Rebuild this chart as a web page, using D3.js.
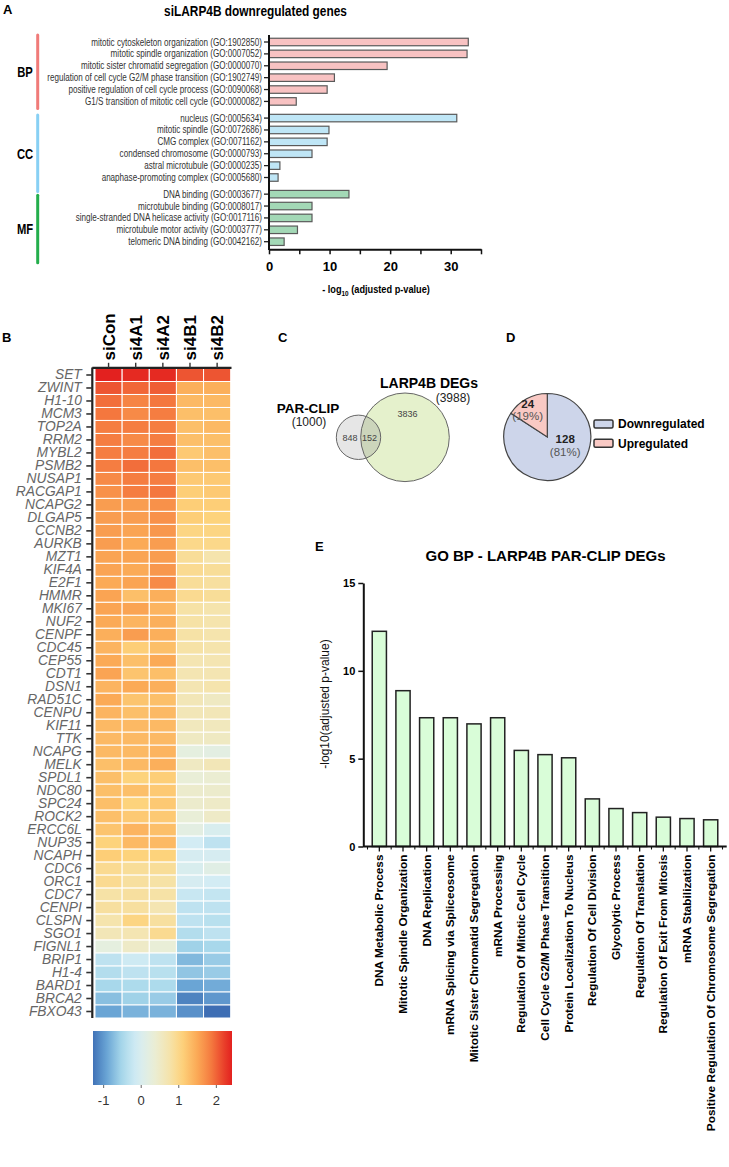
<!DOCTYPE html>
<html>
<head>
<meta charset="utf-8">
<script src="https://cdn.jsdelivr.net/npm/d3@7/dist/d3.min.js"></script>
<style>
html,body{margin:0;padding:0;background:#fff;}
svg{display:block;}
</style>
</head>
<body>
<script>
// ================= DATA =================
// Panel A
const bpTerms = [
  "mitotic cytoskeleton organization (GO:1902850)",
  "mitotic spindle organization (GO:0007052)",
  "mitotic sister chromatid segregation (GO:0000070)",
  "regulation of cell cycle G2/M phase transition (GO:1902749)",
  "positive regulation of cell cycle process (GO:0090068)",
  "G1/S transition of mitotic cell cycle (GO:0000082)"
];
const bpValues = [32.9, 32.7, 19.5, 10.8, 9.6, 4.5];
const ccTerms = [
  "nucleus (GO:0005634)",
  "mitotic spindle (GO:0072686)",
  "CMG complex (GO:0071162)",
  "condensed chromosome (GO:0000793)",
  "astral microtubule (GO:0000235)",
  "anaphase-promoting complex (GO:0005680)"
];
const ccValues = [31.0, 9.9, 9.6, 7.1, 1.8, 1.5];
const mfTerms = [
  "DNA binding (GO:0003677)",
  "microtubule binding (GO:0008017)",
  "single-stranded DNA helicase activity (GO:0017116)",
  "microtubule motor activity (GO:0003777)",
  "telomeric DNA binding (GO:0042162)"
];
const mfValues = [13.2, 7.1, 7.1, 4.7, 2.5];
const groupNamesA = ["BP", "CC", "MF"];
const tickLabelsA = [0, 10, 20, 30];

// Panel B
const samples = ["siCon", "si4A1", "si4A2", "si4B1", "si4B2"];
const genes = ["SET","ZWINT","H1-10","MCM3","TOP2A","RRM2","MYBL2","PSMB2","NUSAP1","RACGAP1",
  "NCAPG2","DLGAP5","CCNB2","AURKB","MZT1","KIF4A","E2F1","HMMR","MKI67","NUF2",
  "CENPF","CDC45","CEP55","CDT1","DSN1","RAD51C","CENPU","KIF11","TTK","NCAPG",
  "MELK","SPDL1","NDC80","SPC24","ROCK2","ERCC6L","NUP35","NCAPH","CDC6","ORC1",
  "CDC7","CENPI","CLSPN","SGO1","FIGNL1","BRIP1","H1-4","BARD1","BRCA2","FBXO43"];
const expression = [
  [2.4, 2.35, 2.35, 2.1, 2.1],
  [2.1, 2.0, 2.05, 1.45, 1.45],
  [1.95, 1.8, 1.9, 1.35, 1.35],
  [1.9, 1.75, 1.85, 1.3, 1.3],
  [1.85, 1.85, 1.85, 1.3, 1.35],
  [1.85, 1.75, 1.85, 1.3, 1.3],
  [1.85, 1.85, 1.95, 1.2, 1.3],
  [1.85, 1.95, 1.9, 1.3, 1.3],
  [1.75, 1.85, 1.85, 1.2, 1.2],
  [1.7, 1.85, 1.9, 1.15, 1.2],
  [1.6, 1.6, 1.7, 1.15, 1.15],
  [1.6, 1.6, 1.7, 1.15, 1.1],
  [1.6, 1.55, 1.65, 1.05, 1.05],
  [1.6, 1.5, 1.6, 1.0, 1.0],
  [1.55, 1.55, 1.6, 0.9, 0.75],
  [1.55, 1.5, 1.65, 0.95, 0.9],
  [1.5, 1.55, 1.75, 0.9, 0.85],
  [1.55, 1.3, 1.45, 0.95, 0.9],
  [1.55, 1.55, 1.4, 0.8, 0.75],
  [1.5, 1.4, 1.45, 0.8, 0.75],
  [1.45, 1.6, 1.45, 0.8, 0.75],
  [1.4, 1.15, 1.3, 0.8, 0.75],
  [1.5, 1.3, 1.5, 0.7, 0.7],
  [1.55, 1.25, 1.3, 0.7, 0.7],
  [1.4, 1.5, 1.45, 0.7, 0.75],
  [1.5, 1.25, 1.3, 0.65, 0.55],
  [1.4, 1.3, 1.35, 0.65, 0.65],
  [1.35, 1.35, 1.35, 0.6, 0.6],
  [1.35, 1.35, 1.35, 0.55, 0.55],
  [1.35, 1.35, 1.4, 0.25, 0.2],
  [1.3, 1.35, 1.45, 0.55, 0.65],
  [1.3, 1.1, 1.15, 0.35, 0.4],
  [1.3, 1.3, 1.2, 0.45, 0.45],
  [1.3, 1.1, 1.2, 0.45, 0.5],
  [1.3, 1.2, 1.2, 0.35, 0.5],
  [1.25, 1.4, 1.3, 0.2, 0.0],
  [1.1, 1.35, 1.35, -0.1, -0.3],
  [1.15, 1.1, 1.1, -0.05, -0.05],
  [0.95, 0.9, 0.9, 0.0, 0.15],
  [0.95, 0.85, 0.8, -0.05, -0.1],
  [0.8, 0.85, 0.8, -0.2, -0.25],
  [0.85, 0.85, 0.7, -0.3, -0.3],
  [0.75, 1.05, 0.85, -0.3, -0.35],
  [0.65, 0.7, 0.95, -0.4, -0.3],
  [0.25, 0.5, 0.35, -0.55, -0.5],
  [-0.3, -0.15, -0.3, -0.75, -0.6],
  [-0.4, -0.3, -0.35, -0.65, -0.6],
  [-0.5, -0.45, -0.45, -0.9, -0.85],
  [-0.7, -0.55, -0.6, -1.15, -1.0],
  [-0.9, -0.8, -0.8, -1.05, -1.3]
];
const colorbarTicks = [-1, 0, 1, 2];
const colorStops = [-1.35, -0.9, -0.5, -0.1, 0.3, 0.75, 1.1, 1.5, 1.9, 2.4];

// Panel C
const vennNames = ["PAR-CLIP", "LARP4B DEGs"];
const vennTotals = [1000, 3988];
const vennCounts = [848, 152, 3836];

// Panel D
const pieNames = ["Downregulated", "Upregulated"];
const pieValues = [128, 24];
const piePercents = [81, 19];

// Panel E
const eTerms = ["DNA Metabolic Process","Mitotic Spindle Organization","DNA Replication",
  "mRNA Splicing via Spliceosome","Mitotic Sister Chromatid Segregation","mRNA Processing",
  "Regulation Of Mitotic Cell Cycle","Cell Cycle G2/M Phase Transition","Protein Localization To Nucleus",
  "Regulation Of Cell Division","Glycolytic Process","Regulation Of Translation",
  "Regulation Of Exit From Mitosis","mRNA Stabilization","Positive Regulation Of Chromosome Segregation"];
const eValues = [12.25, 8.87, 7.33, 7.33, 6.98, 7.33, 5.47, 5.23, 5.05, 2.71, 2.16, 1.93, 1.67, 1.59, 1.52];
const eTicks = [0, 5, 10, 15];

// ================= DRAWING =================
const FONT = "'Liberation Sans', Arial, Helvetica, sans-serif";
const svg = d3.select("body").append("svg")
  .attr("width", 729).attr("height", 1167)
  .attr("font-family", FONT);
const defs = svg.append("defs");

function txt(parent, x, y, s, o = {}) {
  let tr = `translate(${x},${y})`;
  if (o.rotate) tr += ` rotate(${o.rotate})`;
  if (o.sx) tr += ` scale(${o.sx},1)`;
  const t = parent.append("text").attr("transform", tr)
    .attr("text-anchor", o.anchor || "start")
    .attr("font-size", o.size || 12)
    .attr("font-weight", o.bold ? "bold" : "normal")
    .attr("fill", o.fill || "#000");
  if (o.italic) t.attr("font-style", "italic");
  if (o.dy) t.attr("dy", o.dy);
  t.text(s);
  return t;
}

// panel letters
[["A", 3, 14], ["B", 2, 342], ["C", 278, 342], ["D", 506, 342], ["E", 315, 551]]
  .forEach(([l, x, y]) => txt(svg, x, y, l, {size: 13, bold: true}));

// ---------- Panel A ----------
const gA = svg.append("g");
const groupStyle = [
  {fill: "#f8c2c2", mark: "#f07b79"},
  {fill: "#bfe6f6", mark: "#88d0f4"},
  {fill: "#a3d8b6", mark: "#23ae4c"}
];
const groupsA = [[bpTerms, bpValues], [ccTerms, ccValues], [mfTerms, mfValues]];
const rowsA = [];
groupsA.forEach(([terms, vals], gi) => terms.forEach((t, i) =>
  rowsA.push({term: t, value: vals[i], gi, pos: rowsA.length + gi * 0.4})));
const yA = d3.scaleLinear().domain([0, rowsA[rowsA.length - 1].pos]).range([42, 241.7]);
const xA = d3.scaleLinear().domain([0, 35]).range([269, 481]);
const barHA = 7.5;

txt(gA, 255.5, 16, "siLARP4B downregulated genes", {anchor: "middle", size: 14.5, bold: true, sx: 0.82});

gA.selectAll("rect.bar").data(rowsA).join("rect")
  .attr("class", "bar")
  .attr("x", xA(0)).attr("y", d => yA(d.pos) - barHA / 2)
  .attr("width", d => xA(d.value) - xA(0)).attr("height", barHA)
  .attr("fill", d => groupStyle[d.gi].fill)
  .attr("stroke", "#5a5a5a").attr("stroke-width", 1.2);

gA.selectAll("line.yt").data(rowsA).join("line")
  .attr("class", "yt")
  .attr("x1", xA(0) - 5).attr("x2", xA(0))
  .attr("y1", d => yA(d.pos)).attr("y2", d => yA(d.pos))
  .attr("stroke", "#222").attr("stroke-width", 1.3);

rowsA.forEach(d => txt(gA, 262, yA(d.pos), d.term,
  {anchor: "end", size: 10, sx: 0.81, fill: "#333", dy: "0.35em"}));

gA.append("line").attr("x1", xA(0)).attr("x2", xA(0)).attr("y1", 35).attr("y2", 250)
  .attr("stroke", "#111").attr("stroke-width", 2);

const axisA = d3.axisBottom(xA).tickValues(xA.ticks(7)).tickSize(5).tickSizeOuter(0)
  .tickFormat(d => tickLabelsA.includes(d) ? d : "");
const axA = gA.append("g").attr("transform", "translate(0,249.3)").call(axisA);
axA.select(".domain").attr("stroke", "#111").attr("stroke-width", 2);
axA.selectAll(".tick line").attr("stroke", "#111").attr("stroke-width", 1.5);
axA.selectAll(".tick text").attr("font-size", 13).attr("font-weight", "bold")
  .attr("fill", "#000").attr("font-family", FONT).attr("dy", "1.05em");

const atA = gA.append("text").attr("transform", "translate(376,293) scale(0.8,1)")
  .attr("text-anchor", "middle").attr("font-size", 11.5).attr("font-weight", "bold");
atA.append("tspan").text("- log");
atA.append("tspan").attr("font-size", 8).attr("dy", 3).text("10");
atA.append("tspan").attr("dy", -3).text(" (adjusted p-value)");

groupNamesA.forEach((name, gi) => {
  const rs = rowsA.filter(r => r.gi === gi);
  const y0 = yA(rs[0].pos) - 7 + gi * 4;
  const y1 = yA(rs[rs.length - 1].pos) + 7 + gi * 7;
  gA.append("line").attr("x1", 37.7).attr("x2", 37.7).attr("y1", y0).attr("y2", y1)
    .attr("stroke", groupStyle[gi].mark).attr("stroke-width", 3).attr("stroke-linecap", "round");
  txt(gA, 25, (y0 + y1) / 2, name, {anchor: "middle", size: 15, bold: true, sx: 0.75, dy: "0.36em"});
});

// ---------- Panel B ----------
const gB = svg.append("g");
const hmTop = 368.5, hmBottom = 1018;
const xH = d3.scaleBand().domain(samples).range([95, 230.7]);
const yH = d3.scaleBand().domain(genes).range([hmTop, hmBottom]);
const color = d3.scaleLinear().domain(colorStops)
  .range(["#3867b0", "#6aa5d5", "#a8d8eb", "#d3ecf4", "#e8efdc", "#f5e4ad", "#fdd37c", "#fbaa56", "#f4773e", "#e3211f"])
  .clamp(true);

const cells = genes.flatMap((g, i) => samples.map((s, j) => ({g, s, v: expression[i][j]})));
gB.selectAll("rect.cell").data(cells).join("rect")
  .attr("class", "cell")
  .attr("x", d => xH(d.s)).attr("y", d => yH(d.g))
  .attr("width", xH.bandwidth()).attr("height", yH.bandwidth())
  .attr("fill", d => color(d.v)).attr("stroke", "#fff").attr("stroke-width", 1);

const axL = gB.append("g").attr("transform", "translate(92.3,0)")
  .call(d3.axisLeft(yH).tickSize(6).tickPadding(4.5).tickSizeOuter(0));
axL.select(".domain").attr("stroke", "#222").attr("stroke-width", 2.2).attr("d", `M0,${hmTop - 1}V${hmBottom}`);
axL.selectAll(".tick line").attr("stroke", "#333").attr("stroke-width", 1.6);
axL.selectAll(".tick text").attr("font-size", 13.8).attr("font-style", "italic")
  .attr("fill", "#666").attr("font-family", FONT);

const axT = gB.append("g").attr("transform", `translate(0,${hmTop - 0.7})`)
  .call(d3.axisTop(xH).tickSize(5).tickSizeOuter(0).tickFormat(""));
axT.select(".domain").attr("stroke", "#222").attr("stroke-width", 2.2).attr("d", "M92.3,0H231.5");
axT.selectAll(".tick line").attr("stroke", "#333").attr("stroke-width", 1.4);
samples.forEach(s => txt(gB, xH(s) + xH.bandwidth() / 2 + 6, hmTop - 8, s, {rotate: -90, size: 17, bold: true}));

// colorbar
const cbScale = d3.scaleLinear().domain([-1.27, 2.43]).range([93, 232]);
const cbTop = 1031, cbH = 54;
const grad = defs.append("linearGradient").attr("id", "cbgrad").attr("x1", "0%").attr("x2", "100%");
d3.range(0, 1.0001, 0.05).forEach(t => {
  const v = cbScale.domain()[0] + t * (cbScale.domain()[1] - cbScale.domain()[0]);
  grad.append("stop").attr("offset", (t * 100) + "%").attr("stop-color", color(v));
});
gB.append("rect").attr("x", cbScale.range()[0]).attr("y", cbTop)
  .attr("width", cbScale.range()[1] - cbScale.range()[0]).attr("height", cbH)
  .attr("fill", "url(#cbgrad)");
const axCB = gB.append("g").attr("transform", `translate(0,${cbTop + cbH})`)
  .call(d3.axisBottom(cbScale).tickValues(colorbarTicks).tickSize(3).tickSizeOuter(0).tickFormat(d => String(d)));
axCB.select(".domain").remove();
axCB.selectAll(".tick line").attr("stroke", "#666");
axCB.selectAll(".tick text").attr("font-size", 13).attr("fill", "#333").attr("font-family", FONT).attr("dy", "1.1em");

// ---------- Panel C (Venn) ----------
const gC = svg.append("g");
const rV = d3.scaleSqrt().domain([0, vennTotals[1]]).range([0, 44.3]);
const cyV = 437.3;
const c1 = {x: 358.5, r: rV(vennTotals[0])};
const c2 = {x: 405, r: rV(vennTotals[1])};
defs.append("clipPath").attr("id", "clipSmall").append("circle")
  .attr("cx", c1.x).attr("cy", cyV).attr("r", c1.r);
gC.append("circle").attr("cx", c1.x).attr("cy", cyV).attr("r", c1.r).attr("fill", "#e6e6e6");
gC.append("circle").attr("cx", c2.x).attr("cy", cyV).attr("r", c2.r).attr("fill", "#e5f1cc");
gC.append("circle").attr("cx", c2.x).attr("cy", cyV).attr("r", c2.r).attr("fill", "#ccd5bb")
  .attr("clip-path", "url(#clipSmall)");
gC.append("circle").attr("cx", c1.x).attr("cy", cyV).attr("r", c1.r).attr("fill", "none").attr("stroke", "#666").attr("stroke-width", 1);
gC.append("circle").attr("cx", c2.x).attr("cy", cyV).attr("r", c2.r).attr("fill", "none").attr("stroke", "#666").attr("stroke-width", 1);
txt(gC, 350, cyV + 3.5, vennCounts[0], {anchor: "middle", size: 9, fill: "#444"});
txt(gC, 369.5, cyV + 3.5, vennCounts[1], {anchor: "middle", size: 9, fill: "#444"});
txt(gC, 407.5, 416.5, vennCounts[2], {anchor: "middle", size: 9, fill: "#444"});
txt(gC, 308, 413, vennNames[0], {anchor: "middle", size: 13.5, bold: true});
txt(gC, 309, 426, `(${vennTotals[0]})`, {anchor: "middle", size: 12, fill: "#222"});
txt(gC, 429, 388, vennNames[1], {anchor: "middle", size: 14, bold: true});
txt(gC, 453, 402, `(${vennTotals[1]})`, {anchor: "middle", size: 12, fill: "#222"});

// ---------- Panel D (Pie) ----------
const gD = svg.append("g").attr("transform", "translate(547.3,437)");
const pieR = 43.5;
const pieColors = ["#cdd5ea", "#f9c9c4"];
const arcs = d3.pie().sort(null)(pieValues);
const arcGen = d3.arc().innerRadius(0).outerRadius(pieR);
gD.selectAll("path").data(arcs).join("path")
  .attr("d", arcGen).attr("fill", (d, i) => pieColors[i])
  .attr("stroke", "#444").attr("stroke-width", 1.2);
const labelPlace = [{off: -35, r: 20}, {off: -8, r: 33}];
arcs.forEach((a, i) => {
  const mid = (a.startAngle + a.endAngle) / 2 + labelPlace[i].off * Math.PI / 180;
  const [px, py] = d3.pointRadial(mid, labelPlace[i].r);
  txt(gD, px, py - 2.5, a.data, {anchor: "middle", size: 11.5, bold: true, fill: "#222"});
  txt(gD, px, py + 10, `(${piePercents[i]}%)`, {anchor: "middle", size: 11.5, fill: "#555"});
});
const gLeg = svg.append("g");
pieNames.forEach((n, i) => {
  const y = 424 + i * 19.3;
  gLeg.append("rect").attr("x", 594).attr("y", y - 4).attr("width", 19).attr("height", 8)
    .attr("rx", 1.5).attr("fill", pieColors[i]).attr("stroke", "#333").attr("stroke-width", 1.5);
  txt(gLeg, 618, y, n, {size: 12, bold: true, dy: "0.36em"});
});

// ---------- Panel E ----------
const gE = svg.append("g");
txt(gE, 545.5, 561, "GO BP - LARP4B PAR-CLIP DEGs", {anchor: "middle", size: 15, bold: true});
const yE = d3.scaleLinear().domain([0, 15]).range([846.5, 583]);
const xE = d3.scaleBand().domain(eTerms).range([367.5, 722.5]).paddingInner(0.4).paddingOuter(0.2);
gE.selectAll("rect.eb").data(eTerms).join("rect")
  .attr("class", "eb")
  .attr("x", d => xE(d)).attr("width", xE.bandwidth())
  .attr("y", (d, i) => yE(eValues[i])).attr("height", (d, i) => yE(0) - yE(eValues[i]))
  .attr("fill", "#d9fdd8").attr("stroke", "#222").attr("stroke-width", 1.5);

const axEY = gE.append("g").attr("transform", "translate(363.3,0)")
  .call(d3.axisLeft(yE).tickValues(eTicks).tickSize(5).tickSizeOuter(0));
axEY.select(".domain").attr("stroke", "#111").attr("stroke-width", 2);
axEY.selectAll(".tick line").attr("stroke", "#111").attr("stroke-width", 1.5);
axEY.selectAll(".tick text").attr("font-size", 11).attr("font-weight", "bold").attr("fill", "#000").attr("font-family", FONT);

const axEX = gE.append("g").attr("transform", `translate(0,${yE(0)})`)
  .call(d3.axisBottom(xE).tickSize(5).tickSizeOuter(0).tickFormat(""));
axEX.select(".domain").attr("stroke", "#111").attr("stroke-width", 2).attr("d", "M363.3,0H726.7");
axEX.selectAll(".tick line").attr("stroke", "#111").attr("stroke-width", 1.3);
const minorE = d3.range(eTerms.length + 1).map(i => xE(eTerms[0]) - xE.step() * xE.paddingInner() / 2 + i * xE.step());
gE.selectAll("line.mn").data(minorE).join("line").attr("class", "mn")
  .attr("x1", d => d).attr("x2", d => d).attr("y1", yE(0)).attr("y2", yE(0) + 3)
  .attr("stroke", "#111").attr("stroke-width", 1.1);
eTerms.forEach(t => txt(gE, xE(t) + xE.bandwidth() / 2, yE(0) + 8, t,
  {rotate: -90, anchor: "end", size: 11.8, bold: true, dy: "0.35em"}));
txt(gE, 325, 704, "-log10(adjusted p-value)", {rotate: -90, anchor: "middle", size: 12, dy: "0.35em", fill: "#111"});
</script>
</body>
</html>
